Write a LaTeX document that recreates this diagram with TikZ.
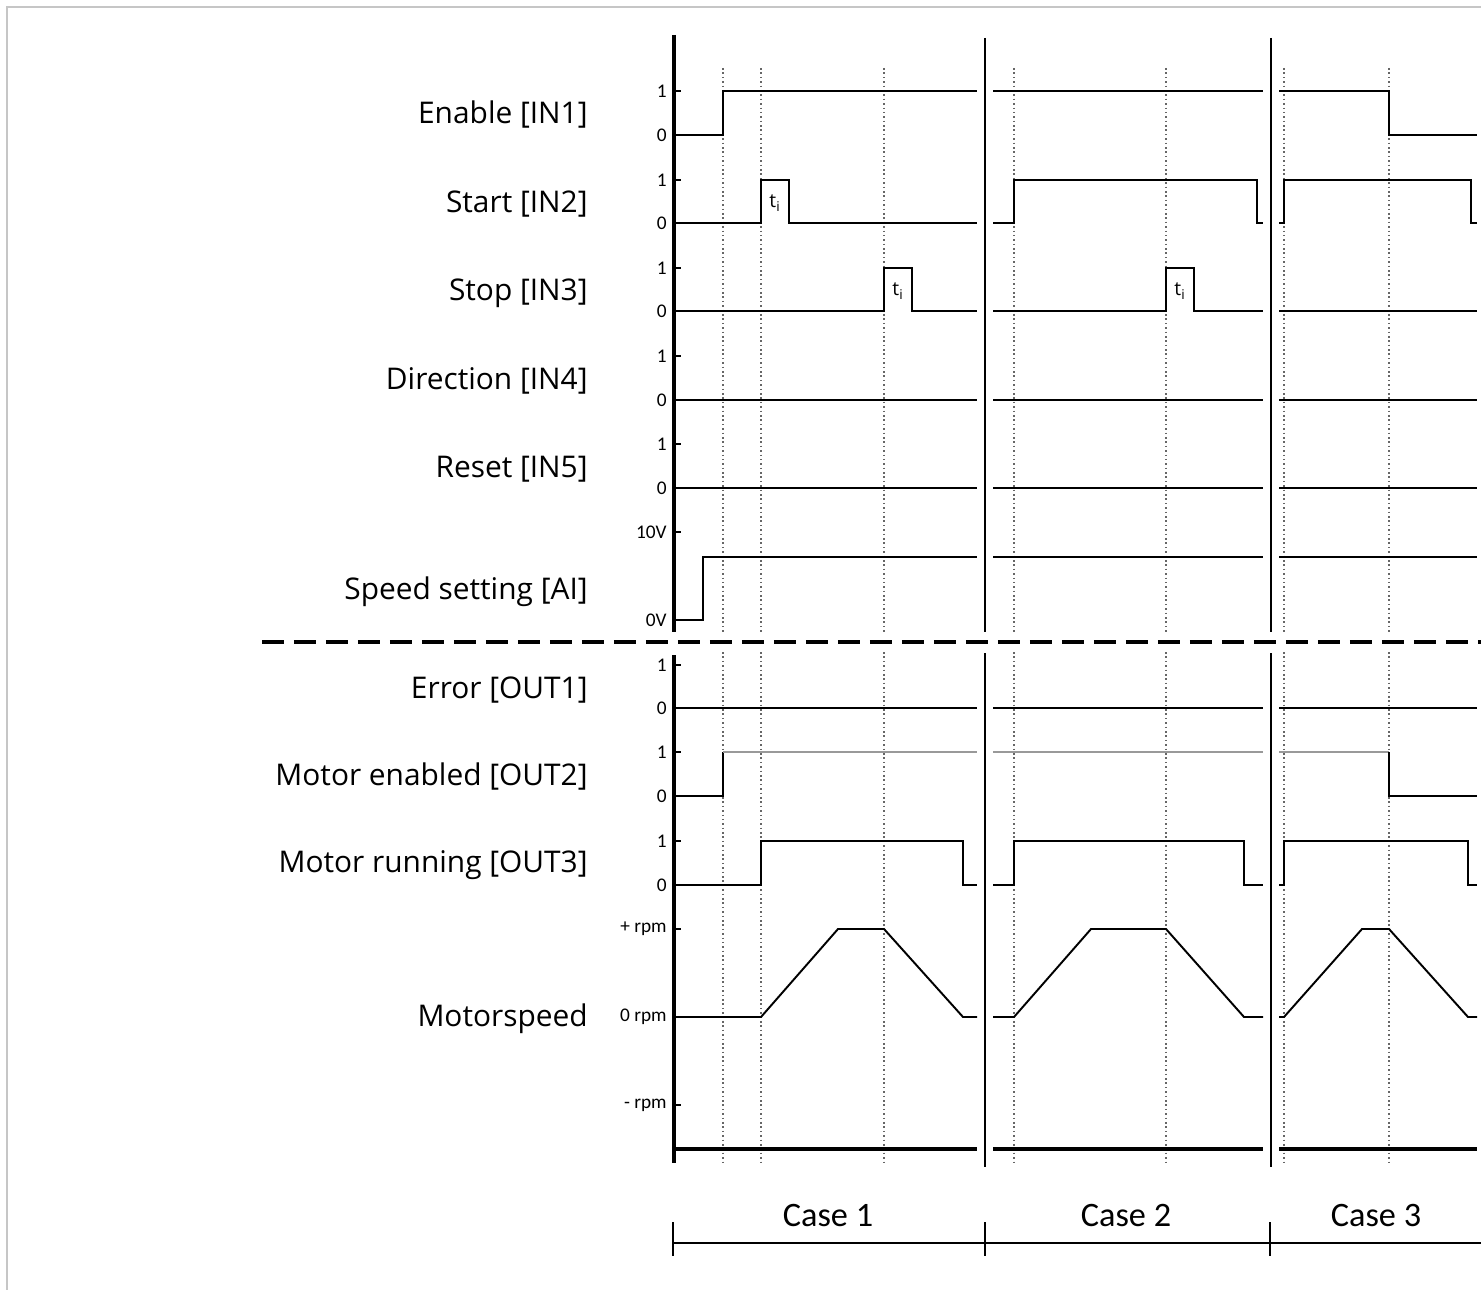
\documentclass[tikz,border=0pt]{standalone}
\usepackage{fontspec}
\setmainfont{Open Sans}
\newfontfamily\casefont{Carlito}
\usetikzlibrary{positioning}
\tikzset{
  sig/.style={line width=1.1pt, line join=miter},
  sigthin/.style={line width=0.8pt, gray!80},
  axis/.style={line width=2.3pt},
  sep/.style={line width=1.5pt},
  guide/.style={dash pattern=on 0.9pt off 1.6pt, black!60, line width=0.7pt},
  lbl/.style={anchor=east, font=\fontsize{17}{20}\selectfont, inner sep=0pt},
  lvl/.style={anchor=east, font=\casefont\fontsize{11}{13}\selectfont, inner sep=0pt},
  casetxt/.style={font=\casefont\fontsize{19.5}{22}\selectfont, inner sep=0pt},
  pulse/.style={font=\fontsize{11}{13}\selectfont, inner sep=0pt}}

\begin{document}
\begin{tikzpicture}[x=0.02cm, y=-0.02cm]
  \useasboundingbox (0,0) rectangle (1481,1290);
  % frame
  \draw[gray!45, line width=1.2pt] (7,1290) -- (7,7) -- (1481,7);

  % signal names
  \foreach \yy/\txt in {115/Enable [IN1], 204/Start [IN2], 293/Stop [IN3],
      381/Direction [IN4], 469/Reset [IN5], 592/Speed setting [AI],
      690/Error [OUT1], 777/Motor enabled [OUT2], 865/Motor running [OUT3],
      1019/Motorspeed}
    \node[lbl] at (588,\yy) {\txt};

  % guide lines
  \foreach \xx in {723,761,884,1014,1166,1284,1389} {
    \draw[guide] (\xx,68) -- (\xx,632);
    \draw[guide] (\xx,652) -- (\xx,1165);
  }

  % axis and case separators
  \draw[axis] (674,35) -- (674,632);
  \draw[axis] (674,655) -- (674,1163);
  \foreach \xx in {985,1271} {
    \draw[sep] (\xx,38) -- (\xx,632);
    \draw[sep] (\xx,653) -- (\xx,1167);
  }

  % levels of the digital rows
  \foreach \hi/\lo in {91/135,180/223,268/311,356/400,444/488,665/708,752/796,841/885} {
    \draw[line width=0.8pt] (674,\hi) -- (681,\hi) (674,\lo) -- (681,\lo);
    \node[lvl] at (667,\hi) {1};
    \node[lvl] at (667,\lo) {0};
  }
  \foreach \yy/\txt in {532/10V,620/0V,929/+ rpm,1017/0 rpm,1105/- rpm} {
    \draw[line width=0.8pt] (674,\yy) -- (681,\yy);
    \node[lvl] at (667,\yy) {\txt};
  }

  % flat rows in every case
  \foreach \xa/\xb in {676/977,993/1263,1279/1477} {
    \draw[sig] (\xa,400) -- (\xb,400);
    \draw[sig] (\xa,488) -- (\xb,488);
    \draw[sig] (\xa,708) -- (\xb,708);
    \draw[line width=2.6pt] (\xa,1149) -- (\xb,1149);
  }

  % Case 1
  \draw[sig] (676,135) -- (723,135) -- (723,91) -- (977,91);
  \draw[sig] (676,223) -- (761,223) -- (761,180) -- (789,180) -- (789,223) -- (977,223);
  \draw[sig] (676,311) -- (884,311) -- (884,268) -- (912,268) -- (912,311) -- (977,311);
  \draw[sig] (676,620) -- (703,620) -- (703,557) -- (977,557);
  \draw[sig] (676,796) -- (723,796) -- (723,752);
  \draw[sigthin] (723,752) -- (977,752);
  \draw[sig] (676,885) -- (761,885) -- (761,841) -- (963,841) -- (963,885) -- (977,885);
  \draw[sig] (676,1017) -- (761,1017) -- (838,929) -- (884,929) -- (963,1017) -- (977,1017);
  \node[pulse] (p1) at (775,203) {t\textsubscript{i}};
  \node[pulse] (p2) at (898,291) {t\textsubscript{i}};

  % Case 2
  \draw[sig] (993,91) -- (1263,91);
  \draw[sig] (993,223) -- (1014,223) -- (1014,180) -- (1257,180) -- (1257,223) -- (1263,223);
  \draw[sig] (993,311) -- (1166,311) -- (1166,268) -- (1194,268) -- (1194,311) -- (1263,311);
  \draw[sig] (993,557) -- (1263,557);
  \draw[sigthin] (993,752) -- (1263,752);
  \draw[sig] (993,885) -- (1014,885) -- (1014,841) -- (1244,841) -- (1244,885) -- (1263,885);
  \draw[sig] (993,1017) -- (1014,1017) -- (1091,929) -- (1166,929) -- (1244,1017) -- (1263,1017);
  \node[pulse] (p3) at (1180,291) {t\textsubscript{i}};

  % Case 3
  \draw[sig] (1279,91) -- (1389,91) -- (1389,135) -- (1477,135);
  \draw[sig] (1279,223) -- (1284,223) -- (1284,180) -- (1471,180) -- (1471,223) -- (1477,223);
  \draw[sig] (1279,311) -- (1477,311);
  \draw[sig] (1279,557) -- (1477,557);
  \draw[sigthin] (1279,752) -- (1389,752);
  \draw[sig] (1389,752) -- (1389,796) -- (1477,796);
  \draw[sig] (1279,885) -- (1284,885) -- (1284,841) -- (1468,841) -- (1468,885) -- (1477,885);
  \draw[sig] (1279,1017) -- (1284,1017) -- (1362,929) -- (1389,929) -- (1468,1017) -- (1477,1017);

  % inputs / outputs divider
  \draw[line width=2.2pt, dash pattern=on 0.44cm off 0.2cm] (262,642) -- (1481,642);

  % case ranges
  \draw[line width=1.1pt] (673,1243) -- (1481,1243);
  \foreach \xx in {673,985,1270}
    \draw[line width=1.1pt] (\xx,1222) -- (\xx,1256);
  \node[casetxt] (c1) at (828,1216) {Case 1};
  \node[casetxt] (c2) at (1126,1216) {Case 2};
  \node[casetxt] (c3) at (1376,1216) {Case 3};
\end{tikzpicture}
\end{document}
